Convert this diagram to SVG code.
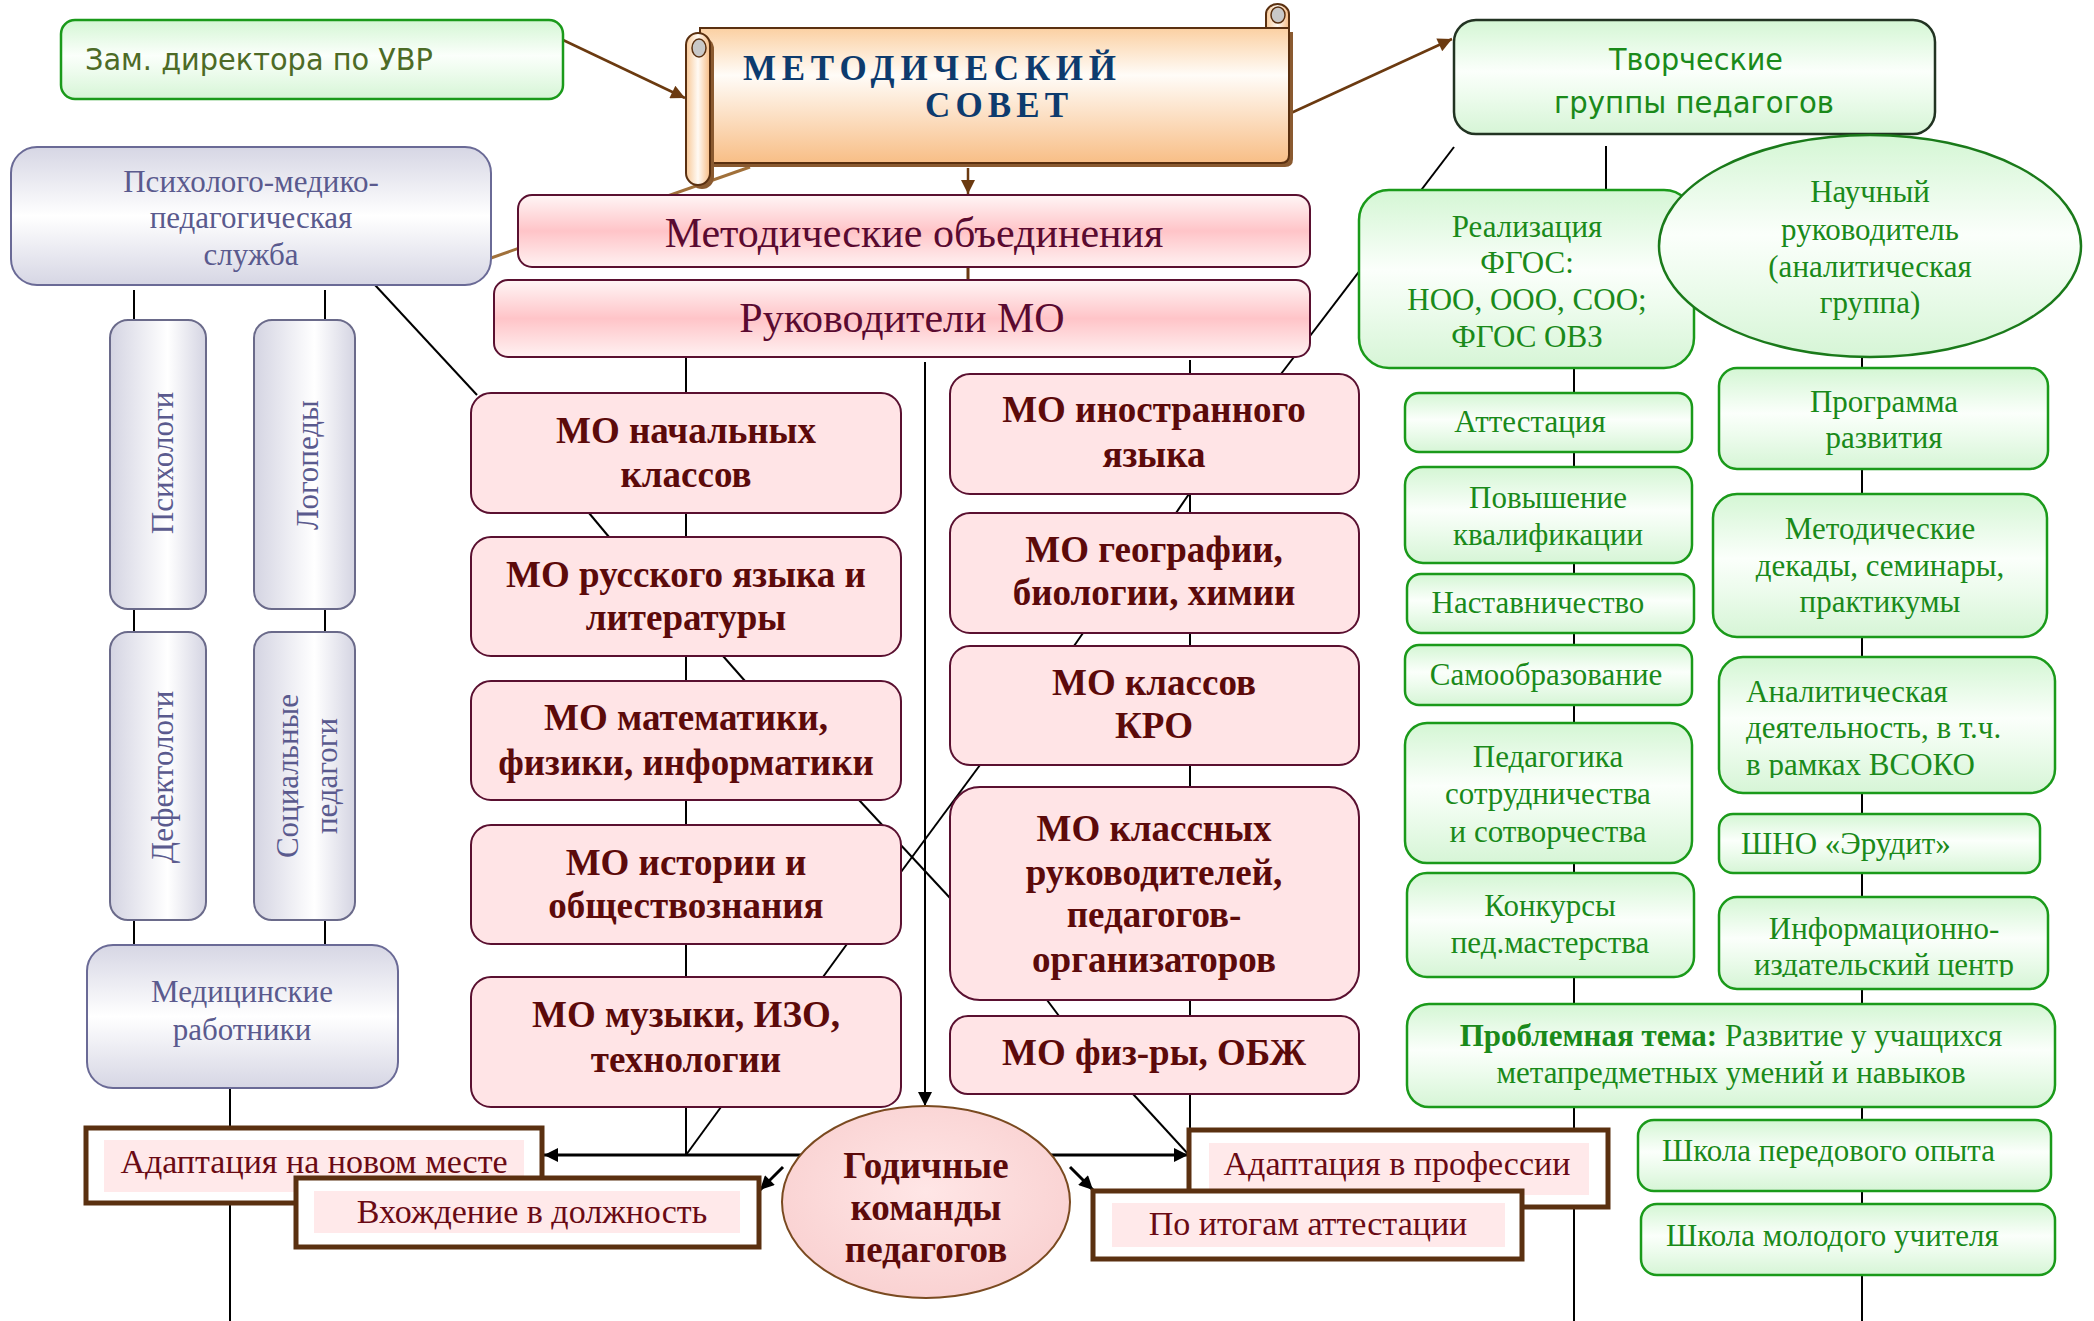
<svg xmlns="http://www.w3.org/2000/svg" width="2094" height="1321" viewBox="0 0 2094 1321">
<defs>
<linearGradient id="gG" x1="0" y1="0" x2="0" y2="1"><stop offset="0" stop-color="#d4f6d4"/><stop offset="0.45" stop-color="#fbfffb"/><stop offset="0.65" stop-color="#eefcee"/><stop offset="1" stop-color="#d6f5d6"/></linearGradient>
<linearGradient id="pG" x1="0" y1="0" x2="0" y2="1"><stop offset="0" stop-color="#d6d6e4"/><stop offset="0.5" stop-color="#ffffff"/><stop offset="1" stop-color="#d6d6e4"/></linearGradient>
<linearGradient id="pH" x1="0" y1="0" x2="1" y2="0"><stop offset="0" stop-color="#d4d4e2"/><stop offset="0.6" stop-color="#ffffff"/><stop offset="1" stop-color="#d4d4e2"/></linearGradient>
<linearGradient id="rG" x1="0" y1="0" x2="0" y2="1"><stop offset="0" stop-color="#fff6f6"/><stop offset="0.5" stop-color="#ffc4c8"/><stop offset="1" stop-color="#fff2f2"/></linearGradient>
<linearGradient id="sG" x1="0" y1="0" x2="0" y2="1"><stop offset="0" stop-color="#fbd0a2"/><stop offset="0.35" stop-color="#fffcf8"/><stop offset="1" stop-color="#f8be86"/></linearGradient>
<linearGradient id="sR" x1="0" y1="0" x2="1" y2="0"><stop offset="0" stop-color="#f8c896"/><stop offset="0.5" stop-color="#fffaf4"/><stop offset="1" stop-color="#f6bc84"/></linearGradient>
<radialGradient id="cG" cx="0.5" cy="0.45" r="0.6"><stop offset="0" stop-color="#ffe6e6"/><stop offset="1" stop-color="#f9d0d0"/></radialGradient>
<marker id="ab" viewBox="0 0 10 10" refX="10" refY="5" markerWidth="16" markerHeight="14" markerUnits="userSpaceOnUse" orient="auto"><path d="M0,0 L10,5 L0,10 Z" fill="#000"/></marker>
<marker id="abr" viewBox="0 0 10 10" refX="10" refY="5" markerWidth="18" markerHeight="14" markerUnits="userSpaceOnUse" orient="auto"><path d="M0,0 L10,5 L0,10 Z" fill="#6b3a10"/></marker>
<clipPath id="clipInfo"><rect x="1719" y="897" width="329" height="80"/></clipPath>
<clipPath id="clipAn"><rect x="1719" y="657" width="336" height="121"/></clipPath>
<style>
.ln{stroke:#000;stroke-width:2;fill:none}
.lnb{stroke:#000;stroke-width:3;fill:none}
.mo{fill:#ffe4e6;stroke:#5a1030;stroke-width:2}
.mot{font-family:"Liberation Serif","Times New Roman",serif;font-weight:bold;font-size:37px;fill:#5c0a0a;text-anchor:middle}
.gr{fill:url(#gG);stroke:#1a9a1a;stroke-width:2.5}
.grt{font-family:"Liberation Serif","Times New Roman",serif;font-size:31px;fill:#1a8a1a;text-anchor:middle}
.st{text-anchor:start}
.ps{fill:url(#pG);stroke:#6a6a96;stroke-width:2}
.pv{fill:url(#pH);stroke:#6a6a8a;stroke-width:2}
.pt{font-family:"Liberation Serif","Times New Roman",serif;font-size:31px;fill:#5a5a8e;text-anchor:middle}
.ad{fill:#fff;stroke:#5a3010;stroke-width:5}
.adi{fill:#ffe9ea}
.adt{font-family:"Liberation Serif","Times New Roman",serif;font-size:34px;fill:#6a0a14;text-anchor:middle}
.rt{font-family:"Liberation Serif","Times New Roman",serif;font-size:42px;fill:#5a0a30;text-anchor:middle}
.cm{font-family:"DejaVu Sans","Noto Sans",sans-serif;font-size:30px}
</style>
</defs>
<rect width="2094" height="1321" fill="#fff"/>

<g id="connectors">
<line x1="750" y1="167" x2="491" y2="258" stroke="#a0703a" stroke-width="3"/>
<line x1="968" y1="257" x2="968" y2="280" stroke="#6b3a10" stroke-width="3"/>
<line x1="563" y1="40" x2="685" y2="98" stroke="#6b3a10" stroke-width="2.5" marker-end="url(#abr)"/>
<line x1="1291" y1="113" x2="1452" y2="39" stroke="#6b3a10" stroke-width="2.5" marker-end="url(#abr)"/>
<line x1="968" y1="168" x2="968" y2="194" stroke="#6b3a10" stroke-width="2.5" marker-end="url(#abr)"/>
<line class="ln" x1="375" y1="285" x2="477" y2="395"/>
<line class="ln" x1="134" y1="290" x2="134" y2="945"/>
<line class="ln" x1="325" y1="290" x2="325" y2="945"/>
<line class="ln" x1="230" y1="1088" x2="230" y2="1321"/>
<line class="ln" x1="686" y1="357" x2="686" y2="1155"/>
<line class="ln" x1="589" y1="513" x2="609" y2="537"/>
<line class="ln" x1="723" y1="656" x2="745" y2="681"/>
<line class="ln" x1="859" y1="800" x2="950" y2="898"/>
<line class="ln" x1="980" y1="765" x2="901" y2="872"/>
<line class="ln" x1="847" y1="944" x2="823" y2="977"/>
<line class="ln" x1="721" y1="1107" x2="686" y2="1155"/>
<line class="ln" x1="1190" y1="360" x2="1190" y2="1130"/>
<line class="ln" x1="1189" y1="494" x2="1176" y2="513"/>
<line class="ln" x1="1083" y1="633" x2="1074" y2="646"/>
<line class="ln" x1="1047" y1="1000" x2="1059" y2="1016"/>
<line class="ln" x1="1133" y1="1094" x2="1189" y2="1155"/>
<line class="ln" x1="1454" y1="147" x2="1281" y2="374"/>
<line class="ln" x1="1606" y1="146" x2="1606" y2="190"/>
<line class="ln" x1="1574" y1="368" x2="1574" y2="1321"/>
<line class="ln" x1="1862" y1="357" x2="1862" y2="1321"/>
<line class="ln" x1="925" y1="362" x2="925" y2="1106" marker-end="url(#ab)"/>
<line class="lnb" x1="802" y1="1155" x2="544" y2="1155" marker-end="url(#ab)"/>
<line class="lnb" x1="1046" y1="1155" x2="1188" y2="1155" marker-end="url(#ab)"/>
<line class="lnb" x1="783" y1="1167" x2="760" y2="1190" marker-end="url(#ab)"/>
<line class="lnb" x1="1070" y1="1167" x2="1093" y2="1190" marker-end="url(#ab)"/>
</g>

<g id="zam">
<rect x="61" y="20" width="502" height="79" rx="14" fill="url(#gG)" stroke="#1a9a1a" stroke-width="2.5"/>
<text class="cm" x="85" y="70" fill="#4d6b26" textLength="348" lengthAdjust="spacingAndGlyphs">Зам. директора по УВР</text>
</g>

<g id="metsovet">
<path d="M704,32 H1293 V159 Q1293,167 1285,167 H704 Z" fill="#8a5a30"/>
<path d="M700,28 H1289 V155 Q1289,163 1281,163 H700 Z" fill="url(#sG)" stroke="#5a3010" stroke-width="2"/>
<path d="M1266,28 V14 A11.5,10 0 0 1 1289,14 V28 Z" fill="url(#sR)" stroke="#5a3010" stroke-width="2"/>
<ellipse cx="1278" cy="15" rx="7" ry="8" fill="#c8c8c8" stroke="#5a3010" stroke-width="1.5"/>
<rect x="690" y="37" width="24" height="152" rx="12" fill="#8a5a30"/>
<rect x="686" y="33" width="24" height="152" rx="12" fill="url(#sR)" stroke="#5a3010" stroke-width="2"/>
<ellipse cx="699" cy="48" rx="7" ry="9" fill="#c8c8c8" stroke="#5a3010" stroke-width="1.5"/>
<text x="743" y="80" font-family="Liberation Serif, serif" font-weight="bold" font-size="35" fill="#0d3b6e" textLength="373" lengthAdjust="spacing">МЕТОДИЧЕСКИЙ</text>
<text x="925" y="117" font-family="Liberation Serif, serif" font-weight="bold" font-size="35" fill="#0d3b6e" textLength="143" lengthAdjust="spacing">СОВЕТ</text>
</g>

<g id="tvorch">
<rect x="1454" y="20" width="481" height="114" rx="22" fill="url(#gG)" stroke="#223322" stroke-width="2.5"/>
<text class="cm" x="1696" y="70" fill="#1a8a1a" text-anchor="middle" textLength="174" lengthAdjust="spacingAndGlyphs">Творческие</text>
<text class="cm" x="1694" y="113" fill="#1a8a1a" text-anchor="middle" textLength="280" lengthAdjust="spacingAndGlyphs">группы педагогов</text>
</g>

<g id="pmps">
<rect class="ps" x="11" y="147" width="480" height="138" rx="26"/>
<text class="pt" x="251" y="192">Психолого-медико-</text>
<text class="pt" x="251" y="228">педагогическая</text>
<text class="pt" x="251" y="265">служба</text>
</g>

<g id="psych">
<rect class="pv" x="110" y="320" width="96" height="289" rx="18"/>
<text class="pt" font-size="32" transform="translate(173,463) rotate(-90)">Психологи</text>
</g>
<g id="logo">
<rect class="pv" x="254" y="320" width="101" height="289" rx="18"/>
<text class="pt" font-size="32" transform="translate(318,465) rotate(-90)">Логопеды</text>
</g>
<g id="defekt">
<rect class="pv" x="110" y="632" width="96" height="288" rx="18" stroke="#33334d"/>
<text class="pt" font-size="32" transform="translate(173,777) rotate(-90)">Дефектологи</text>
</g>
<g id="socped">
<rect class="pv" x="254" y="632" width="101" height="288" rx="18" stroke="#33334d"/>
<text class="pt" font-size="32" transform="translate(298,776) rotate(-90)">Социальные</text>
<text class="pt" font-size="32" transform="translate(337,776) rotate(-90)">педагоги</text>
</g>
<g id="med">
<rect class="ps" x="87" y="945" width="311" height="143" rx="26" stroke="#33334d"/>
<text class="pt" x="242" y="1002" font-size="30" fill="#4a4a7a">Медицинские</text>
<text class="pt" x="242" y="1040" font-size="30" fill="#4a4a7a">работники</text>
</g>

<g id="mo-obed">
<rect x="518" y="195" width="792" height="72" rx="14" fill="url(#rG)" stroke="#5a1030" stroke-width="2"/>
<text class="rt" x="914" y="247">Методические объединения</text>
</g>
<g id="ruk-mo">
<rect x="494" y="280" width="816" height="77" rx="14" fill="url(#rG)" stroke="#5a1030" stroke-width="2"/>
<text class="rt" x="902" y="332">Руководители МО</text>
</g>

<g id="mo-nach">
<rect class="mo" x="471" y="393" width="430" height="120" rx="20"/>
<text class="mot" x="686" y="443">МО начальных</text>
<text class="mot" x="686" y="487">классов</text>
</g>
<g id="mo-rus">
<rect class="mo" x="471" y="537" width="430" height="119" rx="20"/>
<text class="mot" x="686" y="587">МО русского языка и</text>
<text class="mot" x="686" y="630">литературы</text>
</g>
<g id="mo-mat">
<rect class="mo" x="471" y="681" width="430" height="119" rx="20"/>
<text class="mot" x="686" y="730">МО математики,</text>
<text class="mot" x="686" y="775">физики, информатики</text>
</g>
<g id="mo-ist">
<rect class="mo" x="471" y="825" width="430" height="119" rx="20"/>
<text class="mot" x="686" y="875">МО истории и</text>
<text class="mot" x="686" y="918">обществознания</text>
</g>
<g id="mo-muz">
<rect class="mo" x="471" y="977" width="430" height="130" rx="20"/>
<text class="mot" x="686" y="1027">МО музыки, ИЗО,</text>
<text class="mot" x="686" y="1072">технологии</text>
</g>

<g id="mo-in">
<rect class="mo" x="950" y="374" width="409" height="120" rx="20" stroke="#1a1a1a"/>
<text class="mot" x="1154" y="422">МО иностранного</text>
<text class="mot" x="1154" y="467">языка</text>
</g>
<g id="mo-geo">
<rect class="mo" x="950" y="513" width="409" height="120" rx="20"/>
<text class="mot" x="1154" y="562">МО географии,</text>
<text class="mot" x="1154" y="605">биологии, химии</text>
</g>
<g id="mo-kro">
<rect class="mo" x="950" y="646" width="409" height="119" rx="20"/>
<text class="mot" x="1154" y="695">МО классов</text>
<text class="mot" x="1154" y="738">КРО</text>
</g>
<g id="mo-klruk">
<rect class="mo" x="950" y="787" width="409" height="213" rx="30"/>
<text class="mot" x="1154" y="841">МО классных</text>
<text class="mot" x="1154" y="885">руководителей,</text>
<text class="mot" x="1154" y="927">педагогов-</text>
<text class="mot" x="1154" y="972">организаторов</text>
</g>
<g id="mo-fiz">
<rect class="mo" x="950" y="1016" width="409" height="78" rx="18"/>
<text class="mot" x="1154" y="1065">МО физ-ры, ОБЖ</text>
</g>

<g id="godich">
<ellipse cx="926" cy="1202" rx="144" ry="96" fill="url(#cG)" stroke="#7a4a20" stroke-width="2"/>
<text class="mot" x="926" y="1178" fill="#6a0a0a">Годичные</text>
<text class="mot" x="926" y="1220" fill="#6a0a0a">команды</text>
<text class="mot" x="926" y="1262" fill="#6a0a0a">педагогов</text>
</g>

<g id="adapt-mesto">
<rect class="ad" x="86" y="1128" width="456" height="75"/>
<rect class="adi" x="104" y="1140" width="420" height="52"/>
<text class="adt" x="314" y="1173">Адаптация на новом месте</text>
</g>
<g id="vhozhd">
<rect class="ad" x="296" y="1178" width="463" height="69"/>
<rect class="adi" x="314" y="1191" width="426" height="42"/>
<text class="adt" x="532" y="1223">Вхождение в должность</text>
</g>
<g id="adapt-prof">
<rect class="ad" x="1189" y="1130" width="419" height="77" stroke="#9a3a3a"/>
<rect class="adi" x="1209" y="1143" width="380" height="52"/>
<text class="adt" x="1397" y="1175">Адаптация в профессии</text>
</g>
<g id="po-itogam">
<rect class="ad" x="1093" y="1191" width="429" height="68"/>
<rect class="adi" x="1112" y="1203" width="393" height="44"/>
<text class="adt" x="1308" y="1235">По итогам аттестации</text>
</g>

<g id="fgos">
<rect class="gr" x="1359" y="190" width="335" height="178" rx="30"/>
<text class="grt" x="1527" y="237" font-size="32">Реализация</text>
<text class="grt" x="1527" y="273" font-size="32">ФГОС:</text>
<text class="grt" x="1527" y="310" font-size="32">НОО, ООО, СОО;</text>
<text class="grt" x="1527" y="347" font-size="32">ФГОС ОВЗ</text>
</g>
<g id="nauch">
<ellipse cx="1870" cy="246" rx="211" ry="111" fill="url(#gG)" stroke="#1a7a1a" stroke-width="2.5"/>
<text class="grt" x="1870" y="202" font-size="32">Научный</text>
<text class="grt" x="1870" y="240" font-size="32">руководитель</text>
<text class="grt" x="1870" y="277" font-size="32">(аналитическая</text>
<text class="grt" x="1870" y="313" font-size="32">группа)</text>
</g>

<g id="attest">
<rect class="gr" x="1405" y="393" width="287" height="59" rx="14"/>
<text class="grt" x="1530" y="432">Аттестация</text>
</g>
<g id="povysh">
<rect class="gr" x="1405" y="467" width="287" height="96" rx="18"/>
<text class="grt" x="1548" y="508">Повышение</text>
<text class="grt" x="1548" y="545">квалификации</text>
</g>
<g id="nastav">
<rect class="gr" x="1407" y="574" width="287" height="59" rx="14"/>
<text class="grt" x="1538" y="613">Наставничество</text>
</g>
<g id="samoobr">
<rect class="gr" x="1405" y="645" width="287" height="60" rx="14"/>
<text class="grt" x="1546" y="685">Самообразование</text>
</g>
<g id="pedsotr">
<rect class="gr" x="1405" y="723" width="287" height="140" rx="22"/>
<text class="grt" x="1548" y="767">Педагогика</text>
<text class="grt" x="1548" y="804">сотрудничества</text>
<text class="grt" x="1548" y="842">и сотворчества</text>
</g>
<g id="konkurs">
<rect class="gr" x="1407" y="873" width="287" height="104" rx="20"/>
<text class="grt" x="1550" y="916" fill="#3d6a14">Конкурсы</text>
<text class="grt" x="1550" y="953" fill="#3d6a14">пед.мастерства</text>
</g>

<g id="programma">
<rect class="gr" x="1719" y="368" width="329" height="101" rx="18"/>
<text class="grt" x="1884" y="412" font-size="32">Программа</text>
<text class="grt" x="1884" y="448" font-size="32">развития</text>
</g>
<g id="dekady">
<rect class="gr" x="1713" y="494" width="334" height="143" rx="24"/>
<text class="grt" x="1880" y="539">Методические</text>
<text class="grt" x="1880" y="576">декады, семинары,</text>
<text class="grt" x="1880" y="612">практикумы</text>
</g>
<g id="analit">
<rect class="gr" x="1719" y="657" width="336" height="136" rx="24"/>
<g clip-path="url(#clipAn)">
<text class="grt st" x="1746" y="702">Аналитическая</text>
<text class="grt st" x="1746" y="738">деятельность, в т.ч.</text>
<text class="grt st" x="1746" y="775">в рамках ВСОКО</text>
</g>
</g>
<g id="shno">
<rect class="gr" x="1719" y="814" width="321" height="59" rx="14"/>
<text class="grt st" x="1741" y="854">ШНО «Эрудит»</text>
</g>
<g id="info">
<rect class="gr" x="1719" y="897" width="329" height="92" rx="18"/>
<g clip-path="url(#clipInfo)">
<text class="grt" x="1884" y="939">Информационно-</text>
<text class="grt" x="1884" y="975">издательский центр</text>
</g>
</g>
<g id="problem">
<rect class="gr" x="1407" y="1004" width="648" height="103" rx="22"/>
<text class="grt" x="1731" y="1046"><tspan font-weight="bold">Проблемная тема:</tspan> Развитие у учащихся</text>
<text class="grt" x="1731" y="1083">метапредметных умений и навыков</text>
</g>
<g id="shkola-opyt">
<rect class="gr" x="1638" y="1120" width="413" height="71" rx="16"/>
<text class="grt st" x="1662" y="1161">Школа передового опыта</text>
</g>
<g id="shkola-mol">
<rect class="gr" x="1641" y="1204" width="414" height="71" rx="16"/>
<text class="grt st" x="1666" y="1246">Школа молодого учителя</text>
</g>
</svg>
